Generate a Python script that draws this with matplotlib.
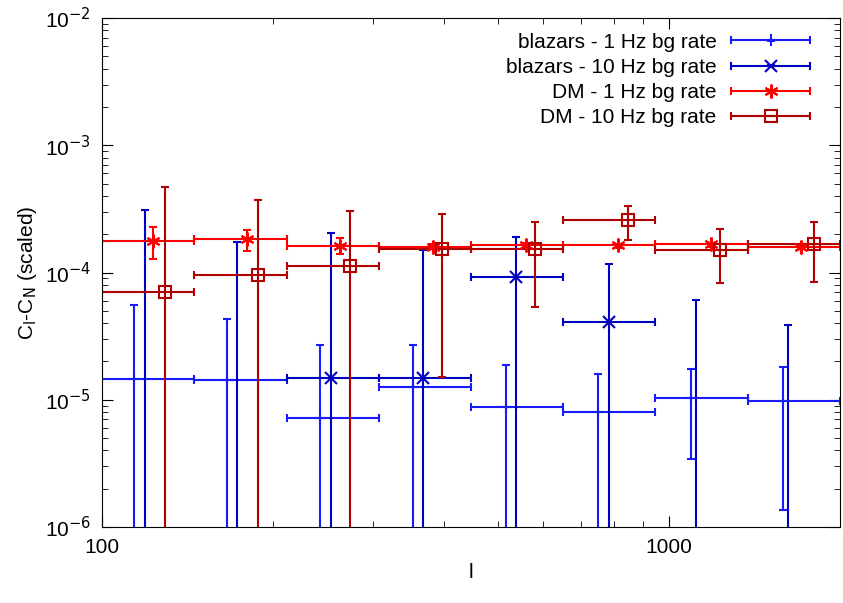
import numpy as np
import matplotlib
matplotlib.use("Agg")
import matplotlib.pyplot as plt
from matplotlib.ticker import LogLocator, NullFormatter
from matplotlib.container import ErrorbarContainer
from matplotlib.legend_handler import HandlerErrorbar

edges = np.logspace(2, np.log10(2000), 9)
lo_edges = edges[:-1]
hi_edges = edges[1:]

# blazars 1 Hz
b1_x = [114, 166, 242, 354, 516, 750, 1091, 1590]
b1_y = [1.46e-5, 1.43e-5, 7.2e-6, 1.26e-5, 8.8e-6, 7.95e-6, 1.03e-5, 9.7e-6]
b1_top = [5.55e-5, 4.3e-5, 2.7e-5, 2.7e-5, 1.87e-5, 1.59e-5, 1.74e-5, 1.8e-5]
b1_bot = [1e-7, 1e-7, 1e-7, 1e-7, 1e-7, 1e-7, 3.42e-6, 1.36e-6]

# blazars 10 Hz (first, second and last two points lie below the axis)
b10_x = [119, 173, 253, 368, 537, 784, 1115, 1620]
b10_y = [3e-7, 3e-7, 1.48e-5, 1.48e-5, 9.2e-5, 4.1e-5, 3e-7, 3e-7]
b10_top = [3.1e-4, 1.74e-4, 2.05e-4, 1.5e-4, 1.9e-4, 1.17e-4, 6.1e-5, 3.9e-5]
b10_bot = [1e-7] * 8

# DM 1 Hz
d1_x = [123, 180, 263, 383, 560, 813, 1186, 1710]
d1_y = [1.77e-4, 1.83e-4, 1.61e-4, 1.60e-4, 1.63e-4, 1.63e-4, 1.66e-4, 1.60e-4]
d1_top = [2.28e-4, 2.15e-4, 1.87e-4, 1.69e-4, 1.70e-4, 1.69e-4, 1.72e-4, 1.66e-4]
d1_bot = [1.28e-4, 1.48e-4, 1.40e-4, 1.52e-4, 1.56e-4, 1.57e-4, 1.60e-4, 1.54e-4]

# DM 10 Hz
d10_x = [129, 188, 274, 398, 581, 845, 1230, 1800]
d10_y = [7.0e-5, 9.5e-5, 1.12e-4, 1.53e-4, 1.53e-4, 2.59e-4, 1.5e-4, 1.67e-4]
d10_top = [4.7e-4, 3.7e-4, 3.04e-4, 2.88e-4, 2.5e-4, 3.33e-4, 2.2e-4, 2.5e-4]
d10_bot = [1e-7, 1e-7, 1e-7, 1.51e-5, 5.37e-5, 1.8e-4, 8.3e-5, 8.4e-5]

plt.rcParams['font.family'] = ['Liberation Sans', 'DejaVu Sans']
fig = plt.figure(figsize=(8.43, 6.03), dpi=100)
ax = fig.add_axes([102/843, 1 - 527/603, 738/843, 509/603])

def draw(x, y, top, bot, color, marker, ms, label, mfc=None):
    x = np.array(x, float); y = np.array(y, float)
    xerr = [x - lo_edges, hi_edges - x]
    yerr = [y - np.array(bot), np.array(top) - y]
    ax.errorbar(x, y, xerr=xerr, yerr=yerr, linestyle='none', marker=marker,
                color=color, ms=ms, mfc=mfc if mfc else color, mew=1.5,
                elinewidth=1.5, capsize=3, capthick=1.5, label=label)

draw(b1_x, b1_y, b1_top, b1_bot, '#1a1aff', '+', 8, 'blazars - 1 Hz bg rate')
draw(b10_x, b10_y, b10_top, b10_bot, '#0000c0', 'x', 9, 'blazars - 10 Hz bg rate')
draw(d1_x, d1_y, d1_top, d1_bot, '#ff0000', (6, 2, 0), 10, 'DM - 1 Hz bg rate')
draw(d10_x, d10_y, d10_top, d10_bot, '#b00000', 's', 9, 'DM - 10 Hz bg rate', mfc='none')

ax.set_xscale('log'); ax.set_yscale('log')
ax.set_xlim(100, 2000); ax.set_ylim(1e-6, 1e-2)
ax.set_xticks([100, 1000]); ax.set_xticklabels(['100', '1000'])
ax.xaxis.set_minor_locator(LogLocator(subs=np.arange(2, 10)))
ax.xaxis.set_minor_formatter(NullFormatter())
ax.set_yticks([1e-6, 1e-5, 1e-4, 1e-3, 1e-2])
ax.set_yticklabels([r'10$^{-6}$', r'10$^{-5}$', r'10$^{-4}$', r'10$^{-3}$', r'10$^{-2}$'])
ax.yaxis.set_minor_locator(LogLocator(subs=np.arange(2, 10)))
ax.yaxis.set_minor_formatter(NullFormatter())
ax.tick_params(which='both', direction='in', top=True, right=True, labelsize=15)
ax.tick_params(which='major', length=8, pad=8)
ax.tick_params(which='minor', length=4)
ax.set_xlabel('l', fontsize=15)
ax.set_ylabel(r'C$_{\rm l}$-C$_{\rm N}$ (scaled)', fontsize=15)
ax.legend(loc='upper right', bbox_to_anchor=(0.985, 1.0), frameon=False,
          markerfirst=False, fontsize=15,
          handlelength=4.2, handletextpad=0.5, labelspacing=0.3,
          borderaxespad=0.4, borderpad=0.3,
          handler_map={ErrorbarContainer: HandlerErrorbar(xerr_size=1.9, yerr_size=0.01)})
fig.savefig('out.png', dpi=100)
